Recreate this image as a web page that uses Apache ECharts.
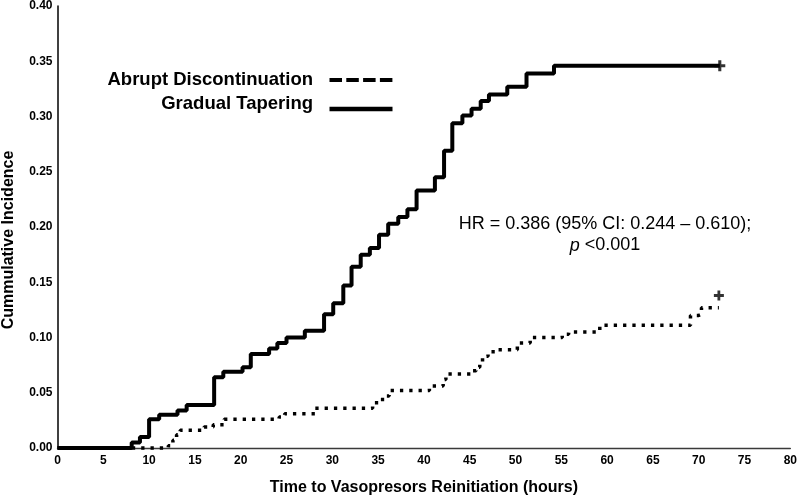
<!DOCTYPE html>
<html>
<head>
<meta charset="utf-8">
<script src="https://cdn.jsdelivr.net/npm/echarts@6/dist/echarts.min.js"></script>
<style>
html,body{margin:0;padding:0;background:#fff;}
#chart{width:800px;height:501px;}
</style>
</head>
<body>
<div id="chart"></div>
<script>
// ---- Data ----
const xTicks = [0,5,10,15,20,25,30,35,40,45,50,55,60,65,70,75,80];
const yTicks = [0.00,0.05,0.10,0.15,0.20,0.25,0.30,0.35,0.40];

// Gradual Tapering (solid) step curve
const taperTimes  = [0, 8.1, 9.0, 10.0, 11.1, 13.1, 14.1, 17.1, 18.1, 20.2, 21.1, 23.1, 24.0, 25.0, 27.0, 29.1, 30.1, 31.2, 32.1, 33.1, 34.1, 35.1, 36.1, 37.2, 38.2, 39.2, 41.2, 42.2, 43.1, 44.2, 45.2, 46.2, 47.1, 49.1, 51.2, 54.2, 72.3];
const taperValues = [0, 0.005, 0.010, 0.026, 0.030, 0.034, 0.039, 0.064, 0.069, 0.073, 0.085, 0.090, 0.095, 0.100, 0.106, 0.121, 0.131, 0.147, 0.164, 0.175, 0.181, 0.193, 0.203, 0.209, 0.216, 0.233, 0.245, 0.269, 0.294, 0.301, 0.307, 0.314, 0.320, 0.327, 0.339, 0.346, 0.346];
const taperCensor = [[72.3, 0.346]];

// Abrupt Discontinuation (dotted) step curve
const abruptTimes  = [0, 12.1, 12.6, 13.0, 13.4, 16.0, 17.0, 18.2, 24.2, 24.8, 28.1, 34.4, 35.1, 35.9, 36.2, 40.6, 42.1, 42.4, 45.1, 45.7, 46.1, 46.4, 47.0, 47.8, 50.2, 51.6, 55.1, 55.8, 59.2, 69.1, 70.0, 70.3, 72.2];
const abruptValues = [0, 0.002, 0.007, 0.012, 0.016, 0.019, 0.021, 0.026, 0.028, 0.031, 0.036, 0.041, 0.044, 0.047, 0.052, 0.056, 0.062, 0.067, 0.070, 0.073, 0.078, 0.083, 0.087, 0.089, 0.095, 0.100, 0.103, 0.105, 0.111, 0.120, 0.121, 0.127, 0.127];
const abruptCensor = [[72.2, 0.138]];

const seriesNames = ['Abrupt Discontinuation', 'Gradual Tapering'];
const xTitle = 'Time to Vasopresors Reinitiation (hours)';
const yTitle = 'Cummulative Incidence';
const hrLine1 = 'HR = 0.386 (95% CI: 0.244 \u2013 0.610);';
const hrLine2P = 'p';
const hrLine2Rest = '<0.001';

// ---- Build ----
const zip = (a, b) => a.map((t, i) => [t, b[i]]);
const FONT = '"Liberation Sans", Arial, Helvetica, sans-serif';
const plusPath = 'path://M3.6,0H6.4V3.6H10V6.4H6.4V10H3.6V6.4H0V3.6H3.6Z';

const chart = echarts.init(document.getElementById('chart'), null, {renderer: 'canvas'});
chart.setOption({
  backgroundColor: '#ffffff',
  animation: false,
  grid: {left: 57.5, right: 8, top: 3, bottom: 52.5, containLabel: false},
  xAxis: {
    type: 'value',
    min: xTicks[0], max: xTicks[xTicks.length - 1], interval: 5,
    splitLine: {show: false},
    axisTick: {show: false},
    axisLine: {show: true, onZero: false, lineStyle: {color: '#3a3a3a', width: 1.4}},
    axisLabel: {color: '#000', fontFamily: FONT, fontWeight: 'bold', fontSize: 12, margin: 7},
    name: xTitle,
    nameLocation: 'middle',
    nameGap: 32,
    nameTextStyle: {color: '#000', fontFamily: FONT, fontWeight: 'bold', fontSize: 16}
  },
  yAxis: {
    type: 'value',
    min: yTicks[0], max: yTicks[yTicks.length - 1], interval: 0.05,
    splitLine: {show: false},
    axisTick: {show: false},
    axisLine: {show: true, onZero: false, lineStyle: {color: '#000', width: 1.5}},
    axisLabel: {color: '#000', fontFamily: FONT, fontWeight: 'bold', fontSize: 12, margin: 5,
      padding: [6, 0, 0, 0],
      formatter: v => v.toFixed(2)}
  },
  series: [
    {
      name: seriesNames[0], type: 'line', step: 'end', symbol: 'none', clip: false, z: 2,
      data: zip(abruptTimes, abruptValues),
      lineStyle: {color: '#000', width: 3.5, type: [3.3, 6], cap: 'butt'}
    },
    {
      name: seriesNames[1], type: 'line', step: 'end', symbol: 'none', clip: false, z: 3,
      data: zip(taperTimes, taperValues),
      lineStyle: {color: '#000', width: 4, type: 'solid'}
    },
    {
      name: seriesNames[0] + ' censored', type: 'scatter', symbol: plusPath, symbolSize: 10,
      data: abruptCensor, itemStyle: {color: '#000'}, z: 4
    },
    {
      name: seriesNames[1] + ' censored', type: 'scatter', symbol: plusPath, symbolSize: 11,
      data: taperCensor, itemStyle: {color: '#000'}, z: 4
    }
  ],
  graphic: [
    {type: 'text', x: 313, y: 80, style: {text: seriesNames[0], fill: '#000', font: 'bold 18.5px ' + FONT, textAlign: 'right', textVerticalAlign: 'middle'}},
    {type: 'line', shape: {x1: 329.5, y1: 80, x2: 392.5, y2: 80}, style: {stroke: '#000', lineWidth: 4, lineDash: [12.5, 4.3]}},
    {type: 'text', x: 313, y: 103.5, style: {text: seriesNames[1], fill: '#000', font: 'bold 18.5px ' + FONT, textAlign: 'right', textVerticalAlign: 'middle'}},
    {type: 'line', shape: {x1: 329.5, y1: 109, x2: 392.5, y2: 109}, style: {stroke: '#000', lineWidth: 4.5}},
    {type: 'text', x: 8.5, y: 240, rotation: Math.PI / 2,
      style: {text: yTitle, fill: '#000', font: 'bold 16px ' + FONT, textAlign: 'center', textVerticalAlign: 'middle'}},
    {type: 'text', x: 605, y: 235,
      style: {
        text: '{n|' + hrLine1 + '}\n{i|' + hrLine2P + '}{n| ' + hrLine2Rest + '}',
        fill: '#000', textAlign: 'center', textVerticalAlign: 'middle',
        rich: {
          n: {fontFamily: FONT, fontSize: 18, fontWeight: 'normal', lineHeight: 21, fill: '#000'},
          i: {fontFamily: FONT, fontSize: 18, fontStyle: 'italic', lineHeight: 21, fill: '#000'}
        }
      }}
  ]
});
</script>
</body>
</html>
